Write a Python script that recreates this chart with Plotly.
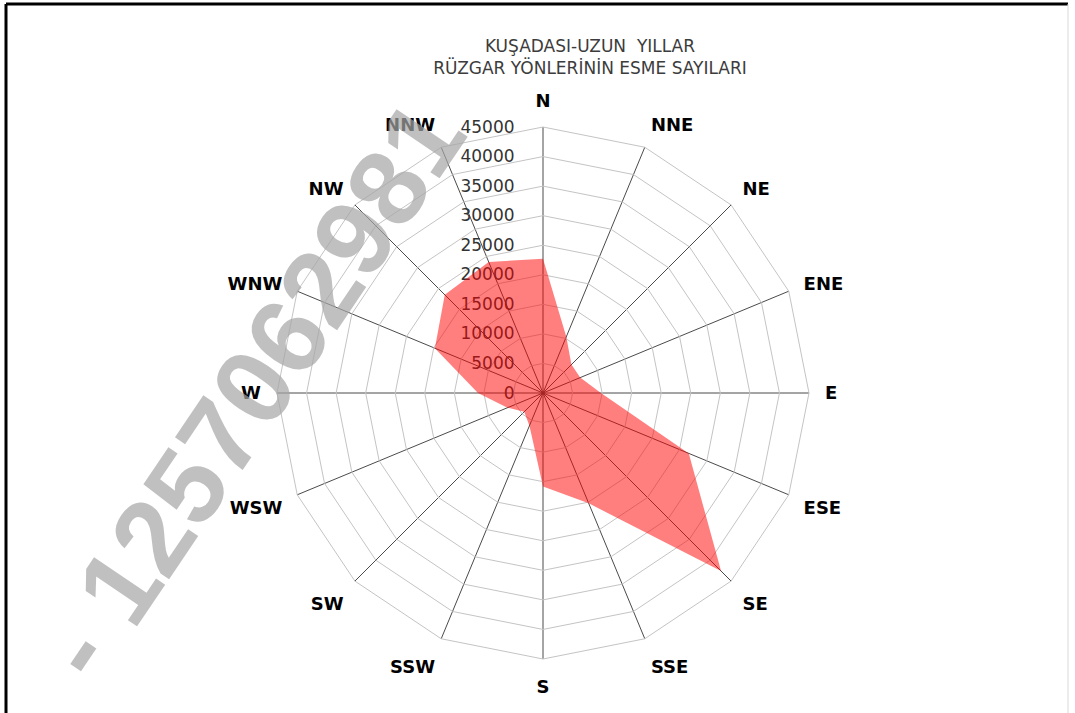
import plotly.graph_objects as go

directions = ["N", "NNE", "NE", "ENE", "E", "ESE", "SE", "SSE",
              "S", "SSW", "SW", "WSW", "W", "WNW", "NW", "NNW"]
counts = [22700, 10300, 6800, 6800, 9800, 26700, 42600, 20200,
          15800, 6000, 4500, 6500, 11000, 19800, 23500, 24000]
radial_ticks = list(range(0, 45001, 5000))

W, H = 1075, 713
cx, cy, R = 543, 393, 266

fig = go.Figure()
fig.add_trace(go.Scatterpolar(
    r=counts + [counts[0]],
    theta=directions + [directions[0]],
    mode="lines",
    fill="toself",
    fillcolor="rgba(255,0,0,0.5)",
    line=dict(width=0, color="rgba(0,0,0,0)"),
    hoverinfo="r+theta",
    showlegend=False,
))

fig.update_layout(
    width=W, height=H,
    paper_bgcolor="white",
    plot_bgcolor="white",
    margin=dict(l=0, r=0, t=0, b=0),
    title=dict(
        text="KUŞADASI-UZUN\u00a0 YILLAR<br>RÜZGAR YÖNLERİNİN ESME SAYILARI",
        x=590 / W, xanchor="center",
        y=1 - 52 / H, yanchor="middle",
        font=dict(family="DejaVu Sans", size=17, color="#3c3c3c"),
    ),
    polar=dict(
        domain=dict(x=[(cx - R) / W, (cx + R) / W],
                    y=[(H - cy - R) / H, (H - cy + R) / H]),
        bgcolor="white",
        gridshape="linear",
        angularaxis=dict(
            type="category",
            categoryarray=directions,
            direction="clockwise",
            rotation=90,
            showline=True,
            linecolor="#c4c4c4",
            linewidth=1,
            gridcolor="#4a4a4a",
            gridwidth=1,
            ticks="outside",
            ticklen=12,
            tickcolor="rgba(0,0,0,0)",
            tickfont=dict(family="DejaVu Sans", size=18, color="black", weight="bold"),
            layer="below traces",
        ),
        radialaxis=dict(
            range=[0, 45000],
            tickvals=radial_ticks,
            tickformat="d",
            angle=90,
            tickangle=90,
            side="counterclockwise",
            showline=False,
            gridcolor="#c4c4c4",
            gridwidth=1,
            ticks="outside",
            ticklen=22,
            tickcolor="rgba(0,0,0,0)",
            tickfont=dict(family="DejaVu Sans", size=17, color="#333333"),
            layer="below traces",
        ),
    ),
    shapes=[
        dict(type="line", xref="paper", yref="paper",
             x0=6 / W, x1=1068 / W, y0=1 - 4 / H, y1=1 - 4 / H,
             line=dict(color="black", width=3)),
        dict(type="line", xref="paper", yref="paper",
             x0=6 / W, x1=6 / W, y0=0, y1=1 - 4 / H,
             line=dict(color="black", width=3)),
        dict(type="line", xref="paper", yref="paper",
             x0=1068 / W, x1=1068 / W, y0=0, y1=1 - 4 / H,
             line=dict(color="#d8d8d8", width=1)),
    ],
    annotations=[
        dict(text="- 1257062981", xref="paper", yref="paper",
             x=252 / W, y=(H - 390) / H, xanchor="center", yanchor="middle",
             showarrow=False, textangle=-56,
             font=dict(family="Liberation Sans", size=108, color="rgba(165,165,165,0.7)",
                       weight="bold")),
    ],
)

fig.write_html("out.html", post_script="document.body.style.margin='0';",
               config={"displayModeBar": False})
